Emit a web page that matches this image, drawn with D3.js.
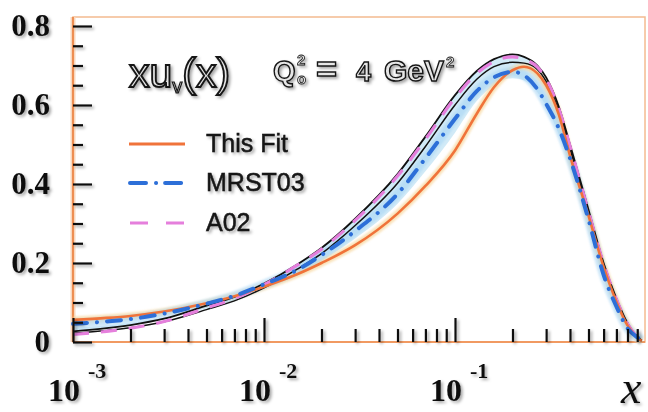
<!DOCTYPE html>
<html>
<head>
<meta charset="utf-8">
<script src="https://cdn.jsdelivr.net/npm/d3@7/dist/d3.min.js"></script>
<style>
  html, body { margin: 0; padding: 0; background: #fff; }
  svg { display: block; }
</style>
</head>
<body>
<svg id="chart" width="648" height="412"></svg>
<script>
// Momentum fraction grid (log spaced) and the valence up distributions xu_v(x) at Q0^2 = 4 GeV^2
const xs       = [0.001, 0.0015, 0.002, 0.003, 0.005, 0.007, 0.01, 0.015, 0.02, 0.03, 0.05, 0.07, 0.1, 0.13, 0.16, 0.2, 0.23, 0.27, 0.3, 0.35, 0.4, 0.5, 0.6, 0.7, 0.8, 0.9, 0.95];
const thisFit  = [0.056, 0.061, 0.066, 0.077, 0.098, 0.116, 0.140, 0.172, 0.200, 0.245, 0.325, 0.395, 0.485, 0.578, 0.645, 0.688, 0.697, 0.680, 0.650, 0.575, 0.472, 0.320, 0.190, 0.102, 0.042, 0.011, 0.003];
const mrst03   = [0.046, 0.052, 0.058, 0.072, 0.097, 0.117, 0.146, 0.183, 0.220, 0.281, 0.375, 0.465, 0.565, 0.635, 0.670, 0.684, 0.675, 0.640, 0.603, 0.540, 0.465, 0.310, 0.170, 0.090, 0.035, 0.012, 0.005];
const mrstLow  = [0.036, 0.042, 0.048, 0.062, 0.086, 0.106, 0.134, 0.170, 0.205, 0.262, 0.350, 0.432, 0.530, 0.610, 0.650, 0.668, 0.662, 0.632, 0.596, 0.525, 0.450, 0.300, 0.160, 0.085, 0.032, 0.010, 0.003];
const a02      = [0.019, 0.027, 0.035, 0.052, 0.086, 0.110, 0.145, 0.195, 0.235, 0.308, 0.420, 0.513, 0.618, 0.680, 0.710, 0.722, 0.716, 0.696, 0.666, 0.590, 0.496, 0.330, 0.198, 0.108, 0.046, 0.013, 0.004];
const a02Upper = [0.027, 0.035, 0.043, 0.059, 0.092, 0.114, 0.148, 0.197, 0.238, 0.312, 0.425, 0.520, 0.625, 0.686, 0.716, 0.728, 0.722, 0.700, 0.670, 0.595, 0.500, 0.335, 0.200, 0.110, 0.048, 0.013, 0.004];
const a02Lower = [0.022, 0.029, 0.036, 0.051, 0.082, 0.104, 0.137, 0.185, 0.224, 0.295, 0.402, 0.495, 0.600, 0.665, 0.697, 0.708, 0.706, 0.690, 0.660, 0.585, 0.490, 0.325, 0.195, 0.105, 0.045, 0.012, 0.003];

const yMajor = [0, 0.2, 0.4, 0.6, 0.8];
const yMinor = [0.05, 0.1, 0.15, 0.25, 0.3, 0.35, 0.45, 0.5, 0.55, 0.65, 0.7, 0.75];
const yLabels = ["0", "0.2", "0.4", "0.6", "0.8"];
const xMajor = [0.001, 0.01, 0.1];
const xMinor = [0.002, 0.003, 0.004, 0.005, 0.006, 0.007, 0.008, 0.009,
                0.02, 0.03, 0.04, 0.05, 0.06, 0.07, 0.08, 0.09,
                0.2, 0.3, 0.4, 0.5, 0.6, 0.7, 0.8, 0.9];
const xExponents = ["-3", "-2", "-1"];
const legendNames = ["This Fit", "MRST03", "A02"];

const svg = d3.select("#chart");
const x = d3.scaleLog().domain([0.001, 1]).range([73, 646]);
const y = d3.scaleLinear().domain([0, 0.8]).range([342, 26]);

// soft print shadow used on text and tick marks
const defs = svg.append("defs");
const sh = defs.append("filter").attr("id", "shadow").attr("x", "-20%").attr("y", "-20%").attr("width", "140%").attr("height", "140%");
sh.append("feDropShadow").attr("dx", 2).attr("dy", 2).attr("stdDeviation", 1.4)
  .attr("flood-color", "#000").attr("flood-opacity", 0.35);
const glow = defs.append("filter").attr("id", "soft");
glow.append("feGaussianBlur").attr("stdDeviation", 1.2);

// plot frame
svg.append("rect").attr("x", 73).attr("y", 17).attr("width", 572).attr("height", 325)
  .attr("fill", "none").attr("stroke", "#f4bb90").attr("stroke-width", 1.5);
svg.append("line").attr("x1", 73).attr("x2", 73).attr("y1", 17).attr("y2", 342)
  .attr("stroke", "#f9d7bd").attr("stroke-width", 5);
svg.append("line").attr("x1", 73).attr("x2", 73).attr("y1", 17).attr("y2", 342)
  .attr("stroke", "#ec8748").attr("stroke-width", 1.8);
svg.append("line").attr("x1", 73).attr("x2", 645).attr("y1", 342).attr("y2", 342)
  .attr("stroke", "#ef8a4a").attr("stroke-width", 1.6);

// curves
const pts = arr => arr.map((v, i) => [xs[i], v]);
const line = d3.line().x(d => x(d[0])).y(d => y(d[1])).curve(d3.curveMonotoneX);
const area = d3.area().x((d, i) => x(xs[i])).y0((d, i) => y(mrstLow[i])).y1(d => y(d)).curve(d3.curveMonotoneX);

const plot = svg.append("g");
plot.append("path").attr("d", area(a02Upper)).attr("fill", "#c9e6f6").attr("opacity", 0.85);

plot.append("path").attr("d", line(pts(thisFit))).attr("fill", "none")
  .attr("stroke", "#f7d59a").attr("stroke-width", 7).attr("opacity", 0.7).attr("filter", "url(#soft)");
plot.append("path").attr("d", line(pts(mrst03))).attr("fill", "none")
  .attr("stroke", "#a9d6f4").attr("stroke-width", 9).attr("opacity", 0.6).attr("filter", "url(#soft)");

plot.append("path").attr("d", line(pts(a02Lower))).attr("fill", "none")
  .attr("stroke", "#111").attr("stroke-width", 1.5);
plot.append("path").attr("d", line(pts(a02Upper))).attr("fill", "none")
  .attr("stroke", "#111").attr("stroke-width", 1.8);
plot.append("path").attr("d", line(pts(a02))).attr("fill", "none")
  .attr("stroke", "#e57fdc").attr("stroke-width", 3.2).attr("stroke-dasharray", "16 12");
plot.append("path").attr("d", line(pts(thisFit))).attr("fill", "none")
  .attr("stroke", "#f0733a").attr("stroke-width", 2.6);
plot.append("path").attr("d", line(pts(mrst03))).attr("fill", "none")
  .attr("stroke", "#2d6fd8").attr("stroke-width", 4).attr("stroke-linecap", "round")
  .attr("stroke-dasharray", "14 10 0.1 10");

// axes
const axes = svg.append("g").attr("filter", "url(#shadow)");
const yAxisMajor = d3.axisLeft(y).tickValues(yMajor).tickSizeInner(-19).tickSizeOuter(0)
  .tickPadding(23).tickFormat((d, i) => yLabels[i]);
const yG = axes.append("g").attr("transform", "translate(73,0)").call(yAxisMajor);
const yAxisMinor = d3.axisLeft(y).tickValues(yMinor).tickSizeInner(-10).tickSizeOuter(0).tickFormat("");
const yG2 = axes.append("g").attr("transform", "translate(73,0)").call(yAxisMinor);

const xAxisMajor = d3.axisBottom(x).tickValues(xMajor).tickSizeInner(-24).tickSizeOuter(0).tickFormat("");
const xG = axes.append("g").attr("transform", "translate(0,342)").call(xAxisMajor);
const xAxisMinor = d3.axisBottom(x).tickValues(xMinor).tickSizeInner(-13).tickSizeOuter(0).tickFormat("");
const xG2 = axes.append("g").attr("transform", "translate(0,342)").call(xAxisMinor);

[yG, yG2, xG, xG2].forEach(g => {
  g.select(".domain").remove();
  g.selectAll(".tick line").attr("stroke", "#111").attr("stroke-width", 2.2);
});
yG.selectAll(".tick text")
  .attr("font-family", "'Liberation Serif', 'Times New Roman', serif")
  .attr("font-weight", "bold").attr("font-size", 31).attr("fill", "#111");

// decade labels 10^n
const xl = axes.append("g").selectAll("text").data(xMajor).join("text")
  .attr("font-family", "'Liberation Serif', 'Times New Roman', serif")
  .attr("font-weight", "bold").attr("fill", "#111");
xl.append("tspan").attr("x", d => x(d) - 25).attr("y", 401).attr("font-size", 32).text("10");
xl.append("tspan").attr("x", d => x(d) + 15).attr("y", 378).attr("font-size", 22)
  .text((d, i) => xExponents[i]);

axes.append("text").attr("x", 621).attr("y", 403)
  .attr("font-family", "'Liberation Serif', 'Times New Roman', serif")
  .attr("font-style", "italic").attr("font-size", 46).attr("fill", "#111").text("x");

// title
const title = svg.append("g").attr("filter", "url(#shadow)")
  .attr("font-family", "'Liberation Sans', Arial, sans-serif")
  .attr("fill", "#e6e6e6").attr("stroke", "#151515").attr("stroke-width", 1.9);
const t1 = title.append("text").attr("x", 129).attr("y", 87).attr("font-size", 41);
t1.append("tspan").text("xu");
t1.append("tspan").attr("font-size", 20).attr("dy", 6).attr("stroke-width", 1.2).text("v");
t1.append("tspan").attr("dy", -6).text("(x)");
title.append("text").attr("x", 273).attr("y", 81).attr("font-size", 29).attr("font-weight", "bold").attr("stroke-width", 1.4).text("Q");
title.append("text").attr("x", 297).attr("y", 65).attr("font-size", 15).attr("font-weight", "bold").attr("stroke-width", 0.8).text("2");
title.append("text").attr("x", 297).attr("y", 84).attr("font-size", 15).attr("font-weight", "bold").attr("stroke-width", 0.8).text("o");
title.append("text").attr("x", 316).attr("y", 82).attr("font-size", 36).attr("font-weight", "bold").attr("stroke-width", 1.4).text("=");
title.append("text").attr("x", 356).attr("y", 81).attr("font-size", 27).attr("font-weight", "bold").attr("stroke-width", 1.4).text("4");
title.append("text").attr("x", 384).attr("y", 81).attr("font-size", 30).attr("font-weight", "bold").attr("stroke-width", 1.4).text("GeV");
title.append("text").attr("x", 446).attr("y", 67).attr("font-size", 15).attr("font-weight", "bold").attr("stroke-width", 0.8).text("2");

// legend
const legY = [144, 183, 223];
const leg = svg.append("g");
leg.append("line").attr("x1", 129).attr("x2", 185).attr("y1", legY[0]).attr("y2", legY[0])
  .attr("stroke", "#f0733a").attr("stroke-width", 3);
leg.append("line").attr("x1", 130).attr("x2", 186).attr("y1", legY[1]).attr("y2", legY[1])
  .attr("stroke", "#2d6fd8").attr("stroke-width", 4).attr("stroke-linecap", "round")
  .attr("stroke-dasharray", "16 10 0.1 9");
leg.append("line").attr("x1", 130).attr("x2", 185).attr("y1", legY[2]).attr("y2", legY[2])
  .attr("stroke", "#e57fdc").attr("stroke-width", 3).attr("stroke-dasharray", "18 18");
leg.append("g").attr("filter", "url(#shadow)").selectAll("text").data(legendNames).join("text")
  .attr("x", 206).attr("y", (d, i) => legY[i] + 8)
  .attr("font-family", "'Liberation Sans', Arial, sans-serif").attr("font-size", 25)
  .attr("fill", "#151515").attr("stroke", "#151515").attr("stroke-width", 0.5)
  .text(d => d);
</script>
</body>
</html>
